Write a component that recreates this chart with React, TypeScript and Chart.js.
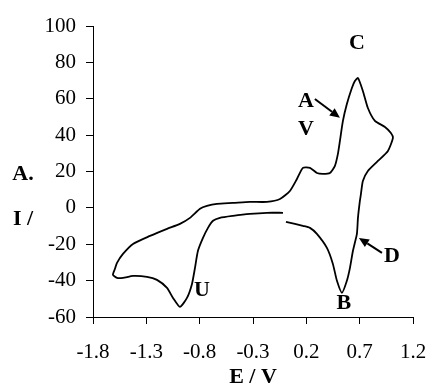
import React, { useEffect, useRef } from "react";
import { Chart, registerables } from "chart.js";

Chart.register(...registerables);

// Cyclic voltammogram trace (E in V, I in arbitrary units), in sweep order
const potentialE = [
  0.009, 0.093, 0.168, 0.234, 0.299, 0.393, 0.449, 0.487, 0.534, 0.58,
  0.609, 0.637, 0.674, 0.684, 0.702, 0.712, 0.73, 0.777, 0.871, 0.965,
  1.012, 0.993, 0.937, 0.843, 0.777, 0.73, 0.684, 0.655, 0.627, 0.58,
  0.543, 0.515, 0.496, 0.468, 0.421, 0.356, 0.299, 0.234, 0.168, 0.112,
  0.046, -0.047, -0.169, -0.329, -0.488, -0.638, -0.732, -0.797, -0.891, -0.985,
  -1.106, -1.266, -1.425, -1.519, -1.575, -1.594, -1.613, -1.575, -1.519, -1.425,
  -1.294, -1.2, -1.106, -1.05, -0.985, -0.919, -0.872, -0.844, -0.816, -0.769,
  -0.722, -0.675, -0.61, -0.488, -0.329, -0.169, -0.019,
];
const currentI = [
  -7.7, -8.8, -9.9, -11, -14.3, -22, -30.8, -40.1, -46.7, -40.1,
  -33, -23.6, -14.3, -5.5, 3.8, 7.7, 14.8, 20.3, 25.8, 31.3,
  38.5, 41.2, 44.5, 47.8, 54.9, 64.3, 71.4, 69.8, 65.9, 57.1,
  47.8, 36.8, 29.7, 23.1, 19.2, 18.7, 19.2, 22, 22, 15.9,
  9.3, 4.9, 3.3, 3.3, 2.7, 2.2, 1.1, -0.5, -5.5, -8.8,
  -11.5, -15.4, -19.8, -25.3, -30.2, -33.5, -36.8, -38.5, -38.5, -37.4,
  -37.9, -39.6, -44, -49.5, -54.4, -49.5, -41.8, -33, -23.6, -16.5,
  -11, -7.1, -5.5, -4.4, -3.3, -2.7, -2.7,
];

const xTickValues = [-1.8, -1.3, -0.8, -0.3, 0.2, 0.7, 1.2];
const yTickValues = [-60, -40, -20, 0, 20, 40, 60, 80, 100];

// Peak annotations (text, anchored in data coordinates)
const peakLabels = ["C", "A", "V", "B", "D", "U"];
const peakLabelE = [0.674, 0.196, 0.196, 0.552, 1.002, -0.778];
const peakLabelI = [90.7, 58.8, 43.4, -52.7, -26.4, -45.6];

// Arrows: tail -> head, data coordinates
const arrowTailE = [0.28, 0.909];
const arrowTailI = [59.9, -24.7];
const arrowHeadE = [0.515, 0.693];
const arrowHeadI = [49.5, -16.5];

const xAxisTitle = "E / V";
const yAxisTitleLines = ["A.", "I /"];

const SERIF = "'Liberation Serif', 'Times New Roman', serif";

export default function App() {
  const canvasRef = useRef<HTMLCanvasElement | null>(null);

  useEffect(() => {
    document.body.style.margin = "0";
    const canvas = canvasRef.current;
    if (!canvas) return;

    const annotationPlugin = {
      id: "cvAnnotations",
      afterDraw(chart: any) {
        const ctx = chart.ctx as CanvasRenderingContext2D;
        const xs = chart.scales.x;
        const ys = chart.scales.y;
        ctx.save();
        ctx.fillStyle = "#000";
        ctx.strokeStyle = "#000";
        ctx.font = `bold 22px ${SERIF}`;
        ctx.textAlign = "center";
        ctx.textBaseline = "middle";
        peakLabels.forEach((t, i) => {
          ctx.fillText(t, xs.getPixelForValue(peakLabelE[i]), ys.getPixelForValue(peakLabelI[i]));
        });
        // arrows
        ctx.lineWidth = 2;
        arrowTailE.forEach((_, i) => {
          const x1 = xs.getPixelForValue(arrowTailE[i]);
          const y1 = ys.getPixelForValue(arrowTailI[i]);
          const x2 = xs.getPixelForValue(arrowHeadE[i]);
          const y2 = ys.getPixelForValue(arrowHeadI[i]);
          const ang = Math.atan2(y2 - y1, x2 - x1);
          const hl = 10;
          const hw = 4.5;
          const bx = x2 - hl * Math.cos(ang);
          const by = y2 - hl * Math.sin(ang);
          ctx.beginPath();
          ctx.moveTo(x1, y1);
          ctx.lineTo(bx, by);
          ctx.stroke();
          ctx.beginPath();
          ctx.moveTo(x2, y2);
          ctx.lineTo(bx + hw * Math.sin(ang), by - hw * Math.cos(ang));
          ctx.lineTo(bx - hw * Math.sin(ang), by + hw * Math.cos(ang));
          ctx.closePath();
          ctx.fill();
        });
        // axis titles
        ctx.font = `bold 22px ${SERIF}`;
        ctx.textAlign = "center";
        ctx.fillText(xAxisTitle, (chart.chartArea.left + chart.chartArea.right) / 2, 377);
        ctx.fillText(yAxisTitleLines[0], 23, 174);
        ctx.fillText(yAxisTitleLines[1], 23, 219);
        ctx.restore();
      },
    };

    const chart = new Chart(canvas, {
      type: "scatter",
      data: {
        datasets: [
          {
            data: potentialE.map((e, i) => ({ x: e, y: currentI[i] })),
            showLine: true,
            borderColor: "#000",
            borderWidth: 1.8,
            pointRadius: 0,
            tension: 0.2,
            fill: false,
          },
        ],
      },
      options: {
        animation: false,
        responsive: true,
        maintainAspectRatio: false,
        layout: { padding: { top: 26, right: 16, left: 0, bottom: 0 } },
        plugins: {
          legend: { display: false },
          tooltip: { enabled: false },
        },
        scales: {
          x: {
            type: "linear",
            min: -1.8,
            max: 1.2,
            afterBuildTicks: (scale: any) => {
              scale.ticks = xTickValues.map((v) => ({ value: v }));
            },
            afterFit: (scale: any) => {
              scale.height = 72;
              scale.paddingLeft = 0;
              scale.paddingRight = 0;
            },
            grid: {
              display: true,
              drawOnChartArea: false,
              drawTicks: true,
              tickLength: 7,
              color: "#000",
            },
            border: { display: true, color: "#000", width: 1 },
            ticks: {
              color: "#000",
              padding: 16,
              maxRotation: 0,
              autoSkip: false,
              font: { family: SERIF, size: 21 },
              callback: (v: any) => Number(v).toFixed(1),
            },
          },
          y: {
            type: "linear",
            min: -60,
            max: 100,
            afterBuildTicks: (scale: any) => {
              scale.ticks = yTickValues.map((v) => ({ value: v }));
            },
            afterFit: (scale: any) => {
              scale.width = 93;
              scale.paddingTop = 0;
              scale.paddingBottom = 0;
            },
            grid: {
              display: true,
              drawOnChartArea: false,
              drawTicks: true,
              tickLength: 7,
              color: "#000",
            },
            border: { display: true, color: "#000", width: 1 },
            ticks: {
              color: "#000",
              padding: 10,
              autoSkip: false,
              font: { family: SERIF, size: 21 },
              callback: (v: any) => String(v),
            },
          },
        },
      },
      plugins: [annotationPlugin],
    });

    return () => chart.destroy();
  }, []);

  return (
    <div style={{ position: "fixed", left: 0, top: 0, width: 429, height: 389, background: "#fff" }}>
      <canvas ref={canvasRef} />
    </div>
  );
}
